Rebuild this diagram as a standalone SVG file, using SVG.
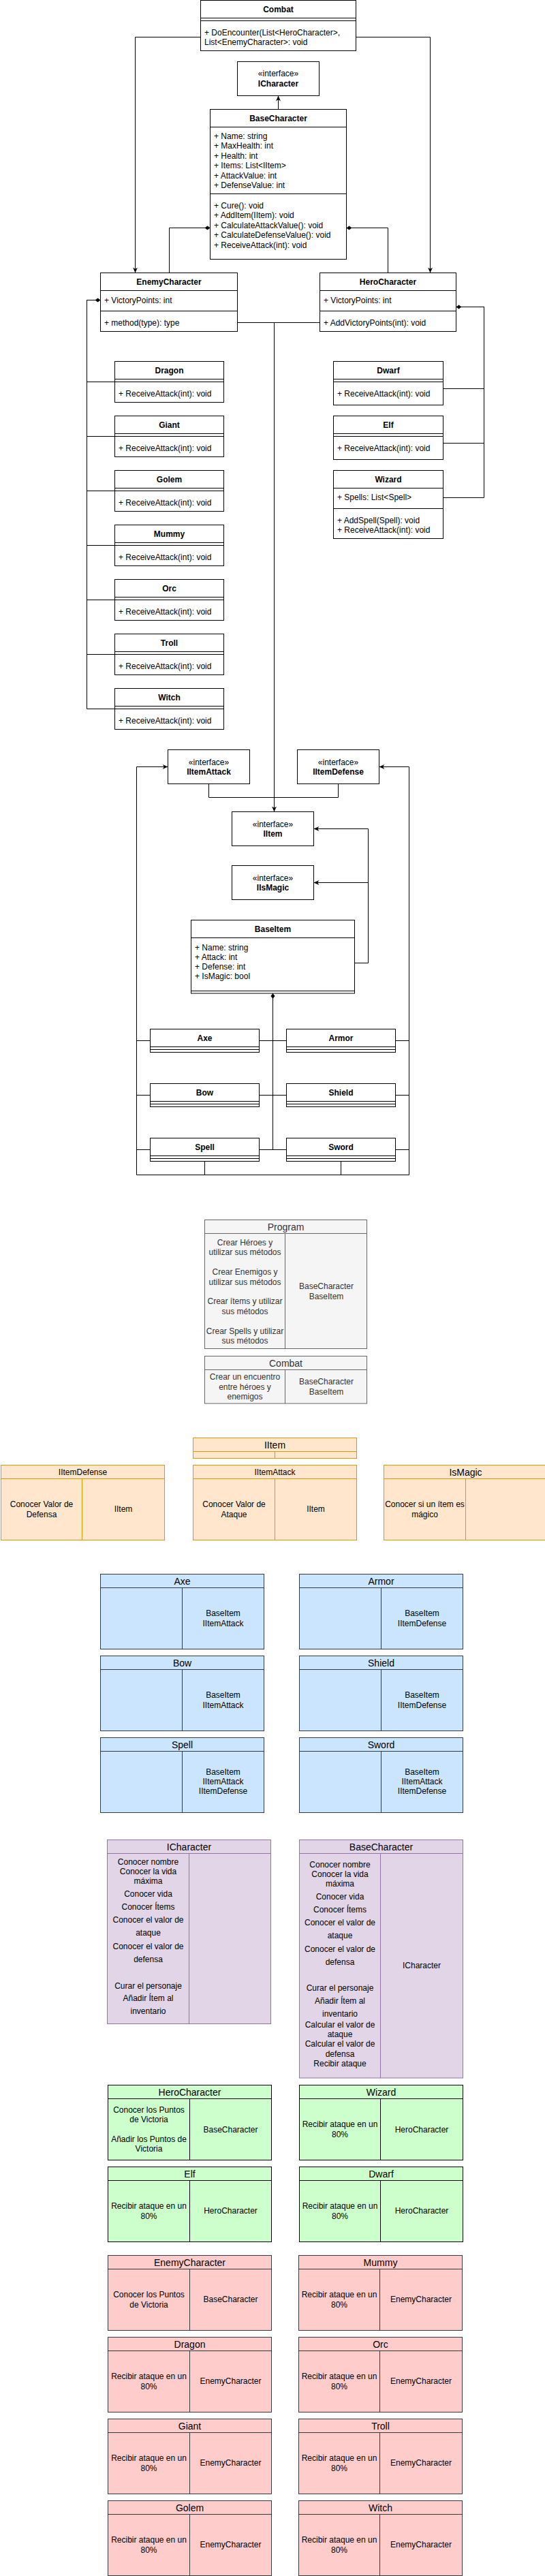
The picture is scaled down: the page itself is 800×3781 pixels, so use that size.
<svg xmlns="http://www.w3.org/2000/svg" width="800" height="3781" viewBox="0 0 800 3781">
<defs>
<style>
text{font-family:"Liberation Sans",Arial,Helvetica,sans-serif;font-size:12px;fill:#000}
.b{font-weight:bold}
.m{text-anchor:middle}
.t14{font-size:14px}
.uml{fill:#fff;stroke:#000;stroke-width:1}
.ul{fill:none;stroke:#000;stroke-width:1}
.con{fill:none;stroke:#000;stroke-width:1}
.gry{fill:#f5f5f5;stroke:#666666}
.gryl{fill:none;stroke:#666666}
.gt{fill:#333333}
.org{fill:#ffe6cc;stroke:#d79b00}
.orgl{fill:none;stroke:#d79b00}
.blu{fill:#cce5ff;stroke:#36393d}
.blul{fill:none;stroke:#36393d}
.pur{fill:#e1d5e7;stroke:#9673a6}
.purl{fill:none;stroke:#9673a6}
.grn{fill:#ccffcc;stroke:#000000}
.grnl{fill:none;stroke:#000000}
.red{fill:#ffcccc;stroke:#36393d}
.redl{fill:none;stroke:#36393d}
</style>
<marker id="arr" markerWidth="9" markerHeight="8" refX="8" refY="4" orient="auto" markerUnits="userSpaceOnUse"><path d="M0,0.5 L8,4 L0,7.5 L2.5,4 z" fill="#000"/></marker>
<marker id="dia" markerWidth="9" markerHeight="7" refX="0" refY="3.5" orient="auto" markerUnits="userSpaceOnUse"><path d="M0,3.5 L4,0.5 L8,3.5 L4,6.5 z" fill="#000"/></marker>
</defs>

<g id="connectors">
<path class="con" d="M294.5,54.5 H198.5 V400.5" marker-end="url(#arr)"/>
<path class="con" d="M522.5,54.5 H631.5 V400.5" marker-end="url(#arr)"/>
<path class="con" d="M408.5,160.5 V140.5" marker-end="url(#arr)"/>
<path class="con" d="M308.5,334.5 H248.5 V400.5" marker-start="url(#dia)"/>
<path class="con" d="M508.5,334.5 H569.5 V400.5" marker-start="url(#dia)"/>
<path class="con" d="M348.5,473.5 H469.5"/>
<path class="con" d="M402.5,473.5 V1191.5" marker-end="url(#arr)"/>
<path class="con" d="M147.5,440.5 H127.5 V560.5 H168.5" marker-start="url(#dia)"/>
<path class="con" d="M147.5,440.5 H127.5 V640.5 H168.5"/>
<path class="con" d="M147.5,440.5 H127.5 V720.5 H168.5"/>
<path class="con" d="M147.5,440.5 H127.5 V800.5 H168.5"/>
<path class="con" d="M147.5,440.5 H127.5 V880.5 H168.5"/>
<path class="con" d="M147.5,440.5 H127.5 V960.5 H168.5"/>
<path class="con" d="M147.5,440.5 H127.5 V1040.5 H168.5"/>
<path class="con" d="M669.5,450.5 H710.5 V570.5 H650.5" marker-start="url(#dia)"/>
<path class="con" d="M669.5,450.5 H710.5 V650.5 H650.5"/>
<path class="con" d="M669.5,450.5 H710.5 V730.5 H650.5"/>
<path class="con" d="M306.5,1150.5 V1170.5 H402.5 V1191.5"/>
<path class="con" d="M496.5,1150.5 V1170.5 H402.5"/>
<path class="con" d="M520.5,1413.5 H540.5 V1216.5 H460.5" marker-end="url(#arr)"/>
<path class="con" d="M540.5,1295.5 H460.5" marker-end="url(#arr)"/>
<path class="con" d="M400.5,1458 V1687.5" marker-start="url(#dia)"/>
<path class="con" d="M200.5,1724.5 V1125.5 H246.5" marker-end="url(#arr)"/>
<path class="con" d="M600.5,1724.5 V1125.5 H556.5" marker-end="url(#arr)"/>
<path class="con" d="M200.5,1527.5 H220.5 M380.5,1527.5 H420.5 M580.5,1527.5 H600.5"/>
<path class="con" d="M200.5,1607.5 H220.5 M380.5,1607.5 H420.5 M580.5,1607.5 H600.5"/>
<path class="con" d="M200.5,1687.5 H220.5 M380.5,1687.5 H420.5 M580.5,1687.5 H600.5"/>
<path class="con" d="M300.5,1704.5 V1724.5 M500.5,1704.5 V1724.5 M200.5,1724.5 H600.5"/>
</g>

<g id="uml-combat">
<rect class="uml" x="294.5" y="0.5" width="228" height="74"/>
<path class="ul" d="M294.5,26.5 H522.5 M294.5,30.5 H522.5"/>
<text class="b m" x="408.5" y="17.5">Combat</text>
<text x="300" y="52">+ DoEncounter(List&lt;HeroCharacter&gt;,</text>
<text x="300" y="66">List&lt;EnemyCharacter&gt;: void</text>
</g>

<g id="uml-icharacter">
<rect class="uml" x="348.5" y="90.5" width="120" height="50"/>
<text class="m" x="408.5" y="112">«interface»</text>
<text class="b m" x="408.5" y="127">ICharacter</text>
</g>

<g id="uml-basecharacter">
<rect class="uml" x="308.5" y="160.5" width="200" height="220"/>
<path class="ul" d="M308.5,186.5 H508.5 M308.5,284.5 H508.5"/>
<text class="b m" x="408.5" y="178">BaseCharacter</text>
<text x="314" y="204">+ Name: string</text>
<text x="314" y="218.4">+ MaxHealth: int</text>
<text x="314" y="232.8">+ Health: int</text>
<text x="314" y="247.2">+ Items: List&lt;IItem&gt;</text>
<text x="314" y="261.6">+ AttackValue: int</text>
<text x="314" y="276">+ DefenseValue: int</text>
<text x="314" y="306">+ Cure(): void</text>
<text x="314" y="320.4">+ AddItem(IItem): void</text>
<text x="314" y="334.8">+ CalculateAttackValue(): void</text>
<text x="314" y="349.2">+ CalculateDefenseValue(): void</text>
<text x="314" y="363.6">+ ReceiveAttack(int): void</text>
</g>

<g id="uml-enemycharacter">
<rect class="uml" x="147.5" y="400.5" width="201" height="86"/>
<path class="ul" d="M147.5,426.5 H348.5 M147.5,456.5 H348.5"/>
<text class="b m" x="248" y="418">EnemyCharacter</text>
<text x="153" y="444.5">+ VictoryPoints: int</text>
<text x="153" y="478">+ method(type): type</text>
</g>

<g id="uml-herocharacter">
<rect class="uml" x="469.5" y="400.5" width="200" height="86"/>
<path class="ul" d="M469.5,426.5 H669.5 M469.5,456.5 H669.5"/>
<text class="b m" x="569.5" y="418">HeroCharacter</text>
<text x="475" y="444.5">+ VictoryPoints: int</text>
<text x="475" y="478">+ AddVictoryPoints(int): void</text>
</g>

<g id="uml-dragon">
<rect class="uml" x="168.5" y="530.5" width="160" height="60"/>
<path class="ul" d="M168.5,556.5 H328.5 M168.5,560.5 H328.5"/>
<text class="b m" x="248.5" y="548">Dragon</text>
<text x="174" y="582">+ ReceiveAttack(int): void</text>
</g>
<g id="uml-giant">
<rect class="uml" x="168.5" y="610.5" width="160" height="60"/>
<path class="ul" d="M168.5,636.5 H328.5 M168.5,640.5 H328.5"/>
<text class="b m" x="248.5" y="628">Giant</text>
<text x="174" y="662">+ ReceiveAttack(int): void</text>
</g>
<g id="uml-golem">
<rect class="uml" x="168.5" y="690.5" width="160" height="60"/>
<path class="ul" d="M168.5,716.5 H328.5 M168.5,720.5 H328.5"/>
<text class="b m" x="248.5" y="708">Golem</text>
<text x="174" y="742">+ ReceiveAttack(int): void</text>
</g>
<g id="uml-mummy">
<rect class="uml" x="168.5" y="770.5" width="160" height="60"/>
<path class="ul" d="M168.5,796.5 H328.5 M168.5,800.5 H328.5"/>
<text class="b m" x="248.5" y="788">Mummy</text>
<text x="174" y="822">+ ReceiveAttack(int): void</text>
</g>
<g id="uml-orc">
<rect class="uml" x="168.5" y="850.5" width="160" height="60"/>
<path class="ul" d="M168.5,876.5 H328.5 M168.5,880.5 H328.5"/>
<text class="b m" x="248.5" y="868">Orc</text>
<text x="174" y="902">+ ReceiveAttack(int): void</text>
</g>
<g id="uml-troll">
<rect class="uml" x="168.5" y="930.5" width="160" height="60"/>
<path class="ul" d="M168.5,956.5 H328.5 M168.5,960.5 H328.5"/>
<text class="b m" x="248.5" y="948">Troll</text>
<text x="174" y="982">+ ReceiveAttack(int): void</text>
</g>
<g id="uml-witch">
<rect class="uml" x="168.5" y="1010.5" width="160" height="60"/>
<path class="ul" d="M168.5,1036.5 H328.5 M168.5,1040.5 H328.5"/>
<text class="b m" x="248.5" y="1028">Witch</text>
<text x="174" y="1062">+ ReceiveAttack(int): void</text>
</g>

<g id="uml-dwarf">
<rect class="uml" x="489.5" y="530.5" width="161" height="64"/>
<path class="ul" d="M489.5,556.5 H650.5 M489.5,560.5 H650.5"/>
<text class="b m" x="570" y="548">Dwarf</text>
<text x="495" y="582">+ ReceiveAttack(int): void</text>
</g>
<g id="uml-elf">
<rect class="uml" x="489.5" y="610.5" width="161" height="64"/>
<path class="ul" d="M489.5,636.5 H650.5 M489.5,640.5 H650.5"/>
<text class="b m" x="570" y="628">Elf</text>
<text x="495" y="662">+ ReceiveAttack(int): void</text>
</g>
<g id="uml-wizard">
<rect class="uml" x="489.5" y="690.5" width="161" height="100"/>
<path class="ul" d="M489.5,716.5 H650.5 M489.5,746.5 H650.5"/>
<text class="b m" x="570" y="708">Wizard</text>
<text x="495" y="734">+ Spells: List&lt;Spell&gt;</text>
<text x="495" y="768">+ AddSpell(Spell): void</text>
<text x="495" y="782">+ ReceiveAttack(int): void</text>
</g>

<g id="uml-iitemattack">
<rect class="uml" x="246.5" y="1100.5" width="120" height="50"/>
<text class="m" x="306.5" y="1122.5">«interface»</text>
<text class="b m" x="306.5" y="1137">IItemAttack</text>
</g>
<g id="uml-iitemdefense">
<rect class="uml" x="436.5" y="1100.5" width="120" height="50"/>
<text class="m" x="496.5" y="1122.5">«interface»</text>
<text class="b m" x="496.5" y="1137">IItemDefense</text>
</g>
<g id="uml-iitem">
<rect class="uml" x="340.5" y="1191.5" width="120" height="50"/>
<text class="m" x="400.5" y="1213.5">«interface»</text>
<text class="b m" x="400.5" y="1228">IItem</text>
</g>
<g id="uml-iismagic">
<rect class="uml" x="340.5" y="1270.5" width="120" height="50"/>
<text class="m" x="400.5" y="1292.5">«interface»</text>
<text class="b m" x="400.5" y="1307">IIsMagic</text>
</g>
<g id="uml-baseitem">
<rect class="uml" x="280.5" y="1350.5" width="240" height="107.5"/>
<path class="ul" d="M280.5,1376.5 H520.5 M280.5,1454.5 H520.5"/>
<text class="b m" x="400.5" y="1368">BaseItem</text>
<text x="286" y="1394.5">+ Name: string</text>
<text x="286" y="1408.5">+ Attack: int</text>
<text x="286" y="1423">+ Defense: int</text>
<text x="286" y="1437">+ IsMagic: bool</text>
</g>

<g id="uml-axe">
<rect class="uml" x="220.5" y="1510.5" width="160" height="34"/>
<path class="ul" d="M220.5,1536.5 H380.5 M220.5,1540.5 H380.5"/>
<text class="b m" x="300.5" y="1528">Axe</text>
</g>
<g id="uml-armor">
<rect class="uml" x="420.5" y="1510.5" width="160" height="34"/>
<path class="ul" d="M420.5,1536.5 H580.5 M420.5,1540.5 H580.5"/>
<text class="b m" x="500.5" y="1528">Armor</text>
</g>
<g id="uml-bow">
<rect class="uml" x="220.5" y="1590.5" width="160" height="34"/>
<path class="ul" d="M220.5,1616.5 H380.5 M220.5,1620.5 H380.5"/>
<text class="b m" x="300.5" y="1608">Bow</text>
</g>
<g id="uml-shield">
<rect class="uml" x="420.5" y="1590.5" width="160" height="34"/>
<path class="ul" d="M420.5,1616.5 H580.5 M420.5,1620.5 H580.5"/>
<text class="b m" x="500.5" y="1608">Shield</text>
</g>
<g id="uml-spell">
<rect class="uml" x="220.5" y="1670.5" width="160" height="34"/>
<path class="ul" d="M220.5,1696.5 H380.5 M220.5,1700.5 H380.5"/>
<text class="b m" x="300.5" y="1688">Spell</text>
</g>
<g id="uml-sword">
<rect class="uml" x="420.5" y="1670.5" width="160" height="34"/>
<path class="ul" d="M420.5,1696.5 H580.5 M420.5,1700.5 H580.5"/>
<text class="b m" x="500.5" y="1688">Sword</text>
</g>

<g id="crc-program">
<rect class="gry" x="300.5" y="1790.5" width="238" height="189"/>
<path class="gryl" d="M300.5,1810.5 H538.5 M418.5,1810.5 V1979.5"/>
<text class="m t14 gt" x="419.5" y="1805.5">Program</text>
<text class="m gt" x="359.5" y="1827.5">Crear Héroes y</text>
<text class="m gt" x="359.5" y="1842">utilizar sus métodos</text>
<text class="m gt" x="359.5" y="1871">Crear Enemigos y</text>
<text class="m gt" x="359.5" y="1885.5">utilizar sus métodos</text>
<text class="m gt" x="359.5" y="1913.5">Crear ítems y utilizar</text>
<text class="m gt" x="359.5" y="1928.5">sus métodos</text>
<text class="m gt" x="359.5" y="1957.5">Crear Spells y utilizar</text>
<text class="m gt" x="359.5" y="1972">sus métodos</text>
<text class="m gt" x="479" y="1892">BaseCharacter</text>
<text class="m gt" x="479" y="1906.5">BaseItem</text>
</g>
<g id="crc-combat">
<rect class="gry" x="300.5" y="1990.5" width="238" height="69.5"/>
<path class="gryl" d="M300.5,2010.5 H538.5 M418.5,2010.5 V2060"/>
<text class="m t14 gt" x="419.5" y="2005.5">Combat</text>
<text class="m gt" x="359.5" y="2025">Crear un encuentro</text>
<text class="m gt" x="359.5" y="2039.5">entre héroes y</text>
<text class="m gt" x="359.5" y="2054">enemigos</text>
<text class="m gt" x="479" y="2032">BaseCharacter</text>
<text class="m gt" x="479" y="2047">BaseItem</text>
</g>

<g id="crc-iitem">
<rect class="org" x="283.5" y="2110.5" width="240" height="30"/>
<path class="orgl" d="M283.5,2130.5 H523.5 M403.5,2130.5 V2140.5"/>
<text class="m t14" x="403.5" y="2125.5">IItem</text>
</g>
<g id="crc-iitemdefense">
<rect class="org" x="1.5" y="2150.5" width="240" height="110"/>
<path class="orgl" d="M1.5,2170.5 H241.5 M120.5,2170.5 V2260.5"/>
<text class="m" x="121.5" y="2165">IItemDefense</text>
<text class="m" x="61" y="2212">Conocer Valor de</text>
<text class="m" x="61" y="2227">Defensa</text>
<text class="m" x="181" y="2219">IItem</text>
</g>
<g id="crc-iitemattack">
<rect class="org" x="283.5" y="2150.5" width="240" height="110"/>
<path class="orgl" d="M283.5,2170.5 H523.5 M403.5,2170.5 V2260.5"/>
<text class="m" x="403.5" y="2165">IItemAttack</text>
<text class="m" x="343.5" y="2212">Conocer Valor de</text>
<text class="m" x="343.5" y="2227">Ataque</text>
<text class="m" x="463.5" y="2219">IItem</text>
</g>
<g id="crc-ismagic">
<rect class="org" x="563.5" y="2150.5" width="240" height="110"/>
<path class="orgl" d="M563.5,2170.5 H803.5 M683.5,2170.5 V2260.5"/>
<text class="m t14" x="683.5" y="2165.5">IsMagic</text>
<text class="m" x="623.5" y="2212">Conocer si un ítem es</text>
<text class="m" x="623.5" y="2227">mágico</text>
</g>

<g id="crc-axe">
<rect class="blu" x="147.5" y="2310.5" width="240" height="110"/>
<path class="blul" d="M147.5,2330.5 H387.5 M267.5,2330.5 V2420.5"/>
<text class="m t14" x="267.5" y="2325.5">Axe</text>
<text class="m" x="327.5" y="2372">BaseItem</text>
<text class="m" x="327.5" y="2387">IItemAttack</text>
</g>
<g id="crc-armor">
<rect class="blu" x="439.5" y="2310.5" width="240" height="110"/>
<path class="blul" d="M439.5,2330.5 H679.5 M559.5,2330.5 V2420.5"/>
<text class="m t14" x="559.5" y="2325.5">Armor</text>
<text class="m" x="619.5" y="2372">BaseItem</text>
<text class="m" x="619.5" y="2387">IItemDefense</text>
</g>
<g id="crc-bow">
<rect class="blu" x="147.5" y="2430.5" width="240" height="110"/>
<path class="blul" d="M147.5,2450.5 H387.5 M267.5,2450.5 V2540.5"/>
<text class="m t14" x="267.5" y="2445.5">Bow</text>
<text class="m" x="327.5" y="2492">BaseItem</text>
<text class="m" x="327.5" y="2507">IItemAttack</text>
</g>
<g id="crc-shield">
<rect class="blu" x="439.5" y="2430.5" width="240" height="110"/>
<path class="blul" d="M439.5,2450.5 H679.5 M559.5,2450.5 V2540.5"/>
<text class="m t14" x="559.5" y="2445.5">Shield</text>
<text class="m" x="619.5" y="2492">BaseItem</text>
<text class="m" x="619.5" y="2507">IItemDefense</text>
</g>
<g id="crc-spell">
<rect class="blu" x="147.5" y="2550.5" width="240" height="110"/>
<path class="blul" d="M147.5,2570.5 H387.5 M267.5,2570.5 V2660.5"/>
<text class="m t14" x="267.5" y="2565.5">Spell</text>
<text class="m" x="327.5" y="2605">BaseItem</text>
<text class="m" x="327.5" y="2619">IItemAttack</text>
<text class="m" x="327.5" y="2633">IItemDefense</text>
</g>
<g id="crc-sword">
<rect class="blu" x="439.5" y="2550.5" width="240" height="110"/>
<path class="blul" d="M439.5,2570.5 H679.5 M559.5,2570.5 V2660.5"/>
<text class="m t14" x="559.5" y="2565.5">Sword</text>
<text class="m" x="619.5" y="2605">BaseItem</text>
<text class="m" x="619.5" y="2619">IItemAttack</text>
<text class="m" x="619.5" y="2633">IItemDefense</text>
</g>

<g id="crc-icharacter">
<rect class="pur" x="157.5" y="2700.5" width="240" height="270"/>
<path class="purl" d="M157.5,2720.5 H397.5 M277.5,2720.5 V2970.5"/>
<text class="m t14" x="277.5" y="2715.5">ICharacter</text>
<text class="m" x="217.5" y="2737">Conocer nombre</text>
<text class="m" x="217.5" y="2751">Conocer la vida</text>
<text class="m" x="217.5" y="2765">máxima</text>
<text class="m" x="217.5" y="2784">Conocer vida</text>
<text class="m" x="217.5" y="2802.5">Conocer Ítems</text>
<text class="m" x="217.5" y="2822">Conocer el valor de</text>
<text class="m" x="217.5" y="2841">ataque</text>
<text class="m" x="217.5" y="2861">Conocer el valor de</text>
<text class="m" x="217.5" y="2880">defensa</text>
<text class="m" x="217.5" y="2918.5">Curar el personaje</text>
<text class="m" x="217.5" y="2937">Añadir Ítem al</text>
<text class="m" x="217.5" y="2956">inventario</text>
</g>
<g id="crc-basecharacter">
<rect class="pur" x="439.5" y="2700.5" width="240" height="349.5"/>
<path class="purl" d="M439.5,2720.5 H679.5 M558.5,2720.5 V3050"/>
<text class="m t14" x="559.5" y="2715.5">BaseCharacter</text>
<text class="m" x="499" y="2741">Conocer nombre</text>
<text class="m" x="499" y="2755">Conocer la vida</text>
<text class="m" x="499" y="2769">máxima</text>
<text class="m" x="499" y="2788">Conocer vida</text>
<text class="m" x="499" y="2807">Conocer Ítems</text>
<text class="m" x="499" y="2826">Conocer el valor de</text>
<text class="m" x="499" y="2845">ataque</text>
<text class="m" x="499" y="2865">Conocer el valor de</text>
<text class="m" x="499" y="2884">defensa</text>
<text class="m" x="499" y="2922">Curar el personaje</text>
<text class="m" x="499" y="2941">Añadir Ítem al</text>
<text class="m" x="499" y="2960">inventario</text>
<text class="m" x="499" y="2976">Calcular el valor de</text>
<text class="m" x="499" y="2990">ataque</text>
<text class="m" x="499" y="3004">Calcular el valor de</text>
<text class="m" x="499" y="3019">defensa</text>
<text class="m" x="499" y="3033">Recibir ataque</text>
<text class="m" x="619" y="2889">ICharacter</text>
</g>

<g id="crc-herocharacter">
<rect class="grn" x="158.5" y="3060.5" width="240" height="110"/>
<path class="grnl" d="M158.5,3080.5 H398.5 M278.5,3080.5 V3170.5"/>
<text class="m t14" x="278.5" y="3075.5">HeroCharacter</text>
<text class="m" x="218.5" y="3101">Conocer los Puntos</text>
<text class="m" x="218.5" y="3115">de Victoria</text>
<text class="m" x="218.5" y="3144">Añadir los Puntos de</text>
<text class="m" x="218.5" y="3158">Victoria</text>
<text class="m" x="338.5" y="3129.5">BaseCharacter</text>
</g>
<g id="crc-wizard">
<rect class="grn" x="439.5" y="3060.5" width="240" height="110"/>
<path class="grnl" d="M439.5,3080.5 H679.5 M558.5,3080.5 V3170.5"/>
<text class="m t14" x="559.5" y="3075.5">Wizard</text>
<text class="m" x="499" y="3122">Recibir ataque en un</text>
<text class="m" x="499" y="3137">80%</text>
<text class="m" x="619" y="3129.5">HeroCharacter</text>
</g>
<g id="crc-elf">
<rect class="grn" x="158.5" y="3180.5" width="240" height="110"/>
<path class="grnl" d="M158.5,3200.5 H398.5 M278.5,3200.5 V3290.5"/>
<text class="m t14" x="278.5" y="3195.5">Elf</text>
<text class="m" x="218.5" y="3242">Recibir ataque en un</text>
<text class="m" x="218.5" y="3257">80%</text>
<text class="m" x="338.5" y="3249">HeroCharacter</text>
</g>
<g id="crc-dwarf">
<rect class="grn" x="439.5" y="3180.5" width="240" height="110"/>
<path class="grnl" d="M439.5,3200.5 H679.5 M558.5,3200.5 V3290.5"/>
<text class="m t14" x="559.5" y="3195.5">Dwarf</text>
<text class="m" x="499" y="3242">Recibir ataque en un</text>
<text class="m" x="499" y="3257">80%</text>
<text class="m" x="619" y="3249">HeroCharacter</text>
</g>

<g id="crc-enemycharacter">
<rect class="red" x="158.5" y="3310.5" width="240" height="110"/>
<path class="redl" d="M158.5,3330.5 H398.5 M278.5,3330.5 V3420.5"/>
<text class="m t14" x="278.5" y="3325.5">EnemyCharacter</text>
<text class="m" x="218.5" y="3372">Conocer los Puntos</text>
<text class="m" x="218.5" y="3387">de Victoria</text>
<text class="m" x="338.5" y="3379">BaseCharacter</text>
</g>
<g id="crc-mummy">
<rect class="red" x="438.5" y="3310.5" width="240" height="110"/>
<path class="redl" d="M438.5,3330.5 H678.5 M557.5,3330.5 V3420.5"/>
<text class="m t14" x="558.5" y="3325.5">Mummy</text>
<text class="m" x="498" y="3372">Recibir ataque en un</text>
<text class="m" x="498" y="3387">80%</text>
<text class="m" x="618" y="3379">EnemyCharacter</text>
</g>
<g id="crc-dragon">
<rect class="red" x="158.5" y="3430.5" width="240" height="110"/>
<path class="redl" d="M158.5,3450.5 H398.5 M278.5,3450.5 V3540.5"/>
<text class="m t14" x="278.5" y="3445.5">Dragon</text>
<text class="m" x="218.5" y="3492">Recibir ataque en un</text>
<text class="m" x="218.5" y="3507">80%</text>
<text class="m" x="338.5" y="3499">EnemyCharacter</text>
</g>
<g id="crc-orc">
<rect class="red" x="438.5" y="3430.5" width="240" height="110"/>
<path class="redl" d="M438.5,3450.5 H678.5 M557.5,3450.5 V3540.5"/>
<text class="m t14" x="558.5" y="3445.5">Orc</text>
<text class="m" x="498" y="3492">Recibir ataque en un</text>
<text class="m" x="498" y="3507">80%</text>
<text class="m" x="618" y="3499">EnemyCharacter</text>
</g>
<g id="crc-giant">
<rect class="red" x="158.5" y="3550.5" width="240" height="110"/>
<path class="redl" d="M158.5,3570.5 H398.5 M278.5,3570.5 V3660.5"/>
<text class="m t14" x="278.5" y="3565.5">Giant</text>
<text class="m" x="218.5" y="3612">Recibir ataque en un</text>
<text class="m" x="218.5" y="3627">80%</text>
<text class="m" x="338.5" y="3619">EnemyCharacter</text>
</g>
<g id="crc-troll">
<rect class="red" x="438.5" y="3550.5" width="240" height="110"/>
<path class="redl" d="M438.5,3570.5 H678.5 M557.5,3570.5 V3660.5"/>
<text class="m t14" x="558.5" y="3565.5">Troll</text>
<text class="m" x="498" y="3612">Recibir ataque en un</text>
<text class="m" x="498" y="3627">80%</text>
<text class="m" x="618" y="3619">EnemyCharacter</text>
</g>
<g id="crc-golem">
<rect class="red" x="158.5" y="3670.5" width="240" height="110"/>
<path class="redl" d="M158.5,3690.5 H398.5 M278.5,3690.5 V3780.5"/>
<text class="m t14" x="278.5" y="3685.5">Golem</text>
<text class="m" x="218.5" y="3732">Recibir ataque en un</text>
<text class="m" x="218.5" y="3747">80%</text>
<text class="m" x="338.5" y="3739">EnemyCharacter</text>
</g>
<g id="crc-witch">
<rect class="red" x="438.5" y="3670.5" width="240" height="110"/>
<path class="redl" d="M438.5,3690.5 H678.5 M557.5,3690.5 V3780.5"/>
<text class="m t14" x="558.5" y="3685.5">Witch</text>
<text class="m" x="498" y="3732">Recibir ataque en un</text>
<text class="m" x="498" y="3747">80%</text>
<text class="m" x="618" y="3739">EnemyCharacter</text>
</g>
</svg>
